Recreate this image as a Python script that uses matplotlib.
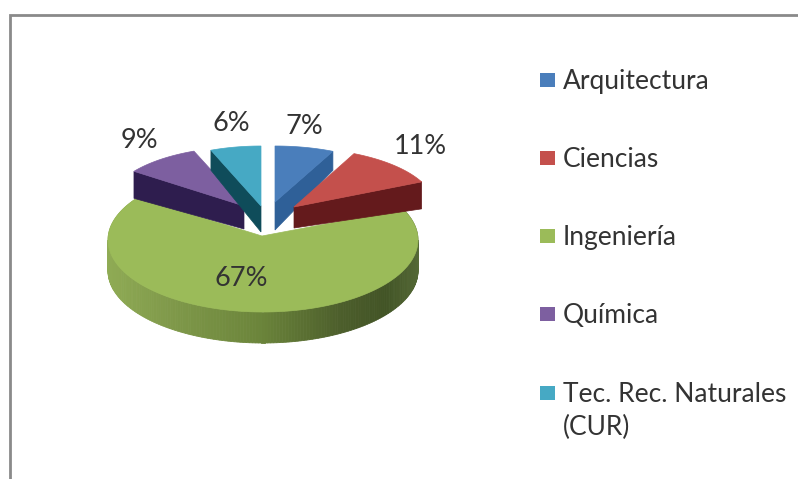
import numpy as np
import matplotlib
matplotlib.use("Agg")
import matplotlib.pyplot as plt
from matplotlib.patches import Polygon, Rectangle

plt.rcParams['font.family'] = ['Lato', 'DejaVu Sans']

categories = ["Arquitectura", "Ciencias", "Ingeniería", "Química", "Tec. Rec. Naturales\n(CUR)"]
values = [7, 11, 67, 9, 6]

top_colors = ["#4a7ebb", "#c4504c", "#9bbb59", "#7d5fa0", "#46a9c4"]
face_colors = ["#2f6098", "#641a1c", None, "#2e1d4e", "#0f4c5a"]

# geometry of each slice in pixels
tips_x = [275, 294, 262, 244, 261]
tips_y = [202, 207, 236, 206, 206]
centers_x = [275, 294, 263, 244, 261]
centers_y = [202, 207, 240, 206, 206]
radii_x = [136, 141, 155, 136, 136]
radii_y = [56, 59, 72, 59, 60]
tip_depth = [28, 21, 31, 23, 26]
edge_depth = [19, 27, 31, 27, 20]
# which straight edge shows its side: 1 = end of slice, 0 = start
visible_edge = [1, 1, None, 0, 0]

label_x = [304, 420, 241, 139, 231]
label_y = [126, 146, 279, 140, 123]
legend_y = [80, 158, 236, 314, 393]

# wall of the big slice, dark towards the right
wall_x = [108, 170, 260, 340, 385, 419]
wall_r = [0.56, 0.50, 0.42, 0.30, 0.26, 0.33]
wall_g = [0.67, 0.60, 0.52, 0.37, 0.33, 0.41]
wall_b = [0.33, 0.29, 0.23, 0.17, 0.15, 0.21]

# draw order, big slice first
draw_order = [2, 3, 4, 0, 1]


def slice_outline(i, a0, a1, n=120):
    t = np.radians(np.linspace(a0, a1, n))
    x = centers_x[i] + radii_x[i] * np.sin(t)
    y = centers_y[i] - radii_y[i] * np.cos(t)
    return x, y


def draw_big_wall(ax, i, a0, a1):
    x, y = slice_outline(i, max(a0, 90), min(a1, 270), 160)
    d = tip_depth[i]
    for k in range(len(x) - 1):
        mid = (x[k] + x[k + 1]) / 2
        color = (np.interp(mid, wall_x, wall_r),
                 np.interp(mid, wall_x, wall_g),
                 np.interp(mid, wall_x, wall_b))
        ax.add_patch(Polygon([(x[k], y[k]), (x[k + 1], y[k + 1]),
                              (x[k + 1], y[k + 1] + d), (x[k], y[k] + d)],
                             closed=True, facecolor=color, edgecolor=color,
                             linewidth=0.6))
    # right part of the wall above the horizontal
    x, y = slice_outline(i, a0, 90, 40)
    color = (wall_r[-1], wall_g[-1], wall_b[-1])
    ax.add_patch(Polygon(list(zip(x, y)) + list(zip(x[::-1], y[::-1] + d)),
                         closed=True, facecolor=color, edgecolor=color, linewidth=0.6))
    x, y = slice_outline(i, 270, a1, 40)
    color = (wall_r[0], wall_g[0], wall_b[0])
    ax.add_patch(Polygon(list(zip(x, y)) + list(zip(x[::-1], y[::-1] + d)),
                         closed=True, facecolor=color, edgecolor=color, linewidth=0.6))


def draw_slice(ax, i, a0, a1):
    x, y = slice_outline(i, a0, a1)
    if visible_edge[i] is None:
        draw_big_wall(ax, i, a0, a1)
    else:
        ex, ey = (x[-1], y[-1]) if visible_edge[i] == 1 else (x[0], y[0])
        ax.add_patch(Polygon([(tips_x[i], tips_y[i]), (ex, ey),
                              (ex, ey + edge_depth[i]),
                              (tips_x[i], tips_y[i] + tip_depth[i])],
                             closed=True, facecolor=face_colors[i],
                             edgecolor=face_colors[i], linewidth=0.5))
    pts = [(tips_x[i], tips_y[i])] + list(zip(x, y))
    ax.add_patch(Polygon(pts, closed=True, facecolor=top_colors[i],
                         edgecolor=top_colors[i], linewidth=0.5))


fig = plt.figure(figsize=(7.98, 4.79), dpi=100)
ax = fig.add_axes([0, 0, 1, 1])
ax.set_xlim(0, 798)
ax.set_ylim(479, 0)
ax.axis("off")

# chart frame, open at right and bottom of the crop
ax.plot([10, 10, 798], [479, 15.3, 15.3], color="#8a8a8a", lw=2.0,
        solid_joinstyle="miter")

fractions = np.cumsum([0] + values) / sum(values) * 360
for i in draw_order:
    draw_slice(ax, i, fractions[i], fractions[i + 1])

for i, v in enumerate(values):
    ax.text(label_x[i], label_y[i], str(v) + "%", ha="center", va="center",
            fontsize=19.5, color="#333333")

for i, name in enumerate(categories):
    ax.add_patch(Rectangle((540, legend_y[i] - 7), 15, 14, facecolor=top_colors[i],
                           edgecolor="none"))
    ax.text(563, legend_y[i] - 11, name, ha="left", va="top", fontsize=19,
            color="#333333", linespacing=1.38)

fig.savefig("out.png", dpi=100)
